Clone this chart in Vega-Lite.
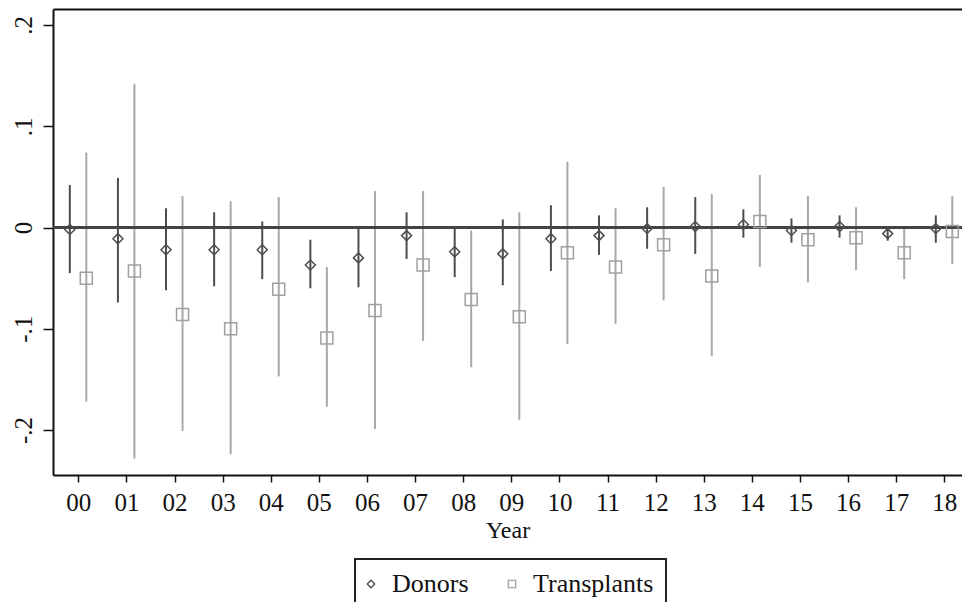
{
  "$schema": "https://vega.github.io/schema/vega-lite/v6.json",
  "width": 909,
  "height": 466,
  "autosize": {"type": "none"},
  "padding": {"left": 53, "top": 9, "right": 0, "bottom": 127},
  "background": "white",
  "config": {
    "view": {"stroke": null},
    "font": "Liberation Serif",
    "axis": {"grid": false, "domainColor": "#111", "domainWidth": 2, "tickColor": "#111", "tickWidth": 1.5, "labelFont": "Liberation Serif", "labelFontSize": 25, "labelColor": "#111", "titleFont": "Liberation Serif", "titleFontSize": 24, "titleFontWeight": "normal", "titleColor": "#111"},
    "axisX": {"tickSize": 7, "labelPadding": 8, "titlePadding": 3},
    "axisY": {"tickSize": 10, "labelAngle": -90, "labelAlign": "center", "labelBaseline": "alphabetic", "labelPadding": 12},
    "legend": {"strokeWidth": 2}
  },
  "data": {
    "values": [
      {"year": 0, "group": "Donors", "est": -0.002, "lo": -0.045, "hi": 0.042},
      {"year": 1, "group": "Donors", "est": -0.011, "lo": -0.074, "hi": 0.049},
      {"year": 2, "group": "Donors", "est": -0.022, "lo": -0.062, "hi": 0.019},
      {"year": 3, "group": "Donors", "est": -0.022, "lo": -0.058, "hi": 0.015},
      {"year": 4, "group": "Donors", "est": -0.022, "lo": -0.051, "hi": 0.006},
      {"year": 5, "group": "Donors", "est": -0.037, "lo": -0.060, "hi": -0.012},
      {"year": 6, "group": "Donors", "est": -0.030, "lo": -0.059, "hi": 0.000},
      {"year": 7, "group": "Donors", "est": -0.008, "lo": -0.031, "hi": 0.015},
      {"year": 8, "group": "Donors", "est": -0.024, "lo": -0.049, "hi": 0.000},
      {"year": 9, "group": "Donors", "est": -0.026, "lo": -0.057, "hi": 0.008},
      {"year": 10, "group": "Donors", "est": -0.011, "lo": -0.043, "hi": 0.022},
      {"year": 11, "group": "Donors", "est": -0.008, "lo": -0.027, "hi": 0.012},
      {"year": 12, "group": "Donors", "est": -0.001, "lo": -0.021, "hi": 0.020},
      {"year": 13, "group": "Donors", "est": 0.001, "lo": -0.026, "hi": 0.030},
      {"year": 14, "group": "Donors", "est": 0.003, "lo": -0.010, "hi": 0.018},
      {"year": 15, "group": "Donors", "est": -0.003, "lo": -0.015, "hi": 0.009},
      {"year": 16, "group": "Donors", "est": 0.001, "lo": -0.010, "hi": 0.012},
      {"year": 17, "group": "Donors", "est": -0.006, "lo": -0.013, "hi": -0.001},
      {"year": 18, "group": "Donors", "est": -0.001, "lo": -0.015, "hi": 0.012},
      {"year": 0, "group": "Transplants", "est": -0.050, "lo": -0.172, "hi": 0.074},
      {"year": 1, "group": "Transplants", "est": -0.043, "lo": -0.228, "hi": 0.142},
      {"year": 2, "group": "Transplants", "est": -0.086, "lo": -0.201, "hi": 0.031},
      {"year": 3, "group": "Transplants", "est": -0.100, "lo": -0.224, "hi": 0.026},
      {"year": 4, "group": "Transplants", "est": -0.061, "lo": -0.147, "hi": 0.030},
      {"year": 5, "group": "Transplants", "est": -0.109, "lo": -0.177, "hi": -0.039},
      {"year": 6, "group": "Transplants", "est": -0.082, "lo": -0.199, "hi": 0.036},
      {"year": 7, "group": "Transplants", "est": -0.037, "lo": -0.112, "hi": 0.036},
      {"year": 8, "group": "Transplants", "est": -0.071, "lo": -0.138, "hi": -0.003},
      {"year": 9, "group": "Transplants", "est": -0.088, "lo": -0.190, "hi": 0.015},
      {"year": 10, "group": "Transplants", "est": -0.025, "lo": -0.115, "hi": 0.065},
      {"year": 11, "group": "Transplants", "est": -0.039, "lo": -0.095, "hi": 0.019},
      {"year": 12, "group": "Transplants", "est": -0.017, "lo": -0.072, "hi": 0.040},
      {"year": 13, "group": "Transplants", "est": -0.048, "lo": -0.127, "hi": 0.033},
      {"year": 14, "group": "Transplants", "est": 0.006, "lo": -0.039, "hi": 0.052},
      {"year": 15, "group": "Transplants", "est": -0.012, "lo": -0.054, "hi": 0.031},
      {"year": 16, "group": "Transplants", "est": -0.010, "lo": -0.042, "hi": 0.020},
      {"year": 17, "group": "Transplants", "est": -0.025, "lo": -0.051, "hi": 0.001},
      {"year": 18, "group": "Transplants", "est": -0.004, "lo": -0.036, "hi": 0.031}
    ]
  },
  "resolve": {"axis": {"x": "independent"}},
  "layer": [
    {
      "transform": [{"filter": "datum.group == 'Donors'"}],
      "mark": {"type": "rule", "color": "#4d4d4d", "strokeWidth": 2, "xOffset": -8.5},
      "encoding": {
        "x": {"field": "year", "type": "quantitative", "scale": {"domain": [-0.526, 18.368], "nice": false, "zero": false},
          "axis": {"title": "Year", "values": [0,1,2,3,4,5,6,7,8,9,10,11,12,13,14,15,16,17,18], "labelExpr": "datum.value < 10 ? '0' + datum.value : '' + datum.value", "labelFlush": false, "labelOverlap": false}},
        "y": {"field": "lo", "type": "quantitative", "scale": {"domain": [-0.2444, 0.2158], "nice": false, "zero": false},
          "axis": {"title": null, "values": [-0.2, -0.1, 0, 0.1, 0.2], "labelExpr": "datum.value == 0 ? '0' : (datum.value < 0 ? '-' : '') + '.' + round(abs(datum.value) * 10)"}},
        "y2": {"field": "hi"}
      }
    },
    {
      "transform": [{"filter": "datum.group == 'Transplants'"}],
      "mark": {"type": "rule", "color": "#a8a8a8", "strokeWidth": 2, "xOffset": 8},
      "encoding": {
        "x": {"field": "year", "type": "quantitative", "axis": {"orient": "top", "title": null, "labels": false, "ticks": false, "domain": true}},
        "y": {"field": "lo", "type": "quantitative", "axis": {"title": null}},
        "y2": {"field": "hi"}
      }
    },
    {
      "mark": {"type": "rule", "color": "#444444", "strokeWidth": 2},
      "encoding": {"y": {"datum": 0, "type": "quantitative"}}
    },
    {
      "transform": [{"filter": "datum.group == 'Donors'"}],
      "mark": {"type": "point", "filled": false, "size": 100, "strokeWidth": 1.5, "xOffset": -8.5, "opacity": 1},
      "encoding": {
        "x": {"field": "year", "type": "quantitative", "axis": null},
        "y": {"field": "est", "type": "quantitative", "axis": {"title": null}},
        "shape": {"field": "group", "type": "nominal", "scale": {"domain": ["Donors", "Transplants"], "range": ["diamond", "square"]},
          "legend": {"orient": "none", "legendX": 302, "legendY": 550, "direction": "horizontal", "title": null, "strokeColor": "#222", "padding": 12, "labelFont": "Liberation Serif", "labelFontSize": 26, "labelColor": "#111", "symbolSize": 55, "symbolStrokeWidth": 1.3, "symbolOffset": -9, "labelOffset": 8, "columnPadding": 36}},
        "stroke": {"field": "group", "type": "nominal", "scale": {"domain": ["Donors", "Transplants"], "range": ["#4d4d4d", "#a0a0a0"]},
          "legend": {"orient": "none", "legendX": 302, "legendY": 550, "direction": "horizontal", "title": null, "strokeColor": "#222", "padding": 12, "labelFont": "Liberation Serif", "labelFontSize": 26, "labelColor": "#111", "symbolSize": 55, "symbolStrokeWidth": 1.3, "symbolOffset": -9, "labelOffset": 8, "columnPadding": 36}}
      }
    },
    {
      "transform": [{"filter": "datum.group == 'Transplants'"}],
      "mark": {"type": "point", "filled": false, "size": 144, "strokeWidth": 1.5, "xOffset": 8, "opacity": 1},
      "encoding": {
        "x": {"field": "year", "type": "quantitative", "axis": null},
        "y": {"field": "est", "type": "quantitative", "axis": {"title": null}},
        "shape": {"field": "group", "type": "nominal"},
        "stroke": {"field": "group", "type": "nominal"}
      }
    }
  ]
}
